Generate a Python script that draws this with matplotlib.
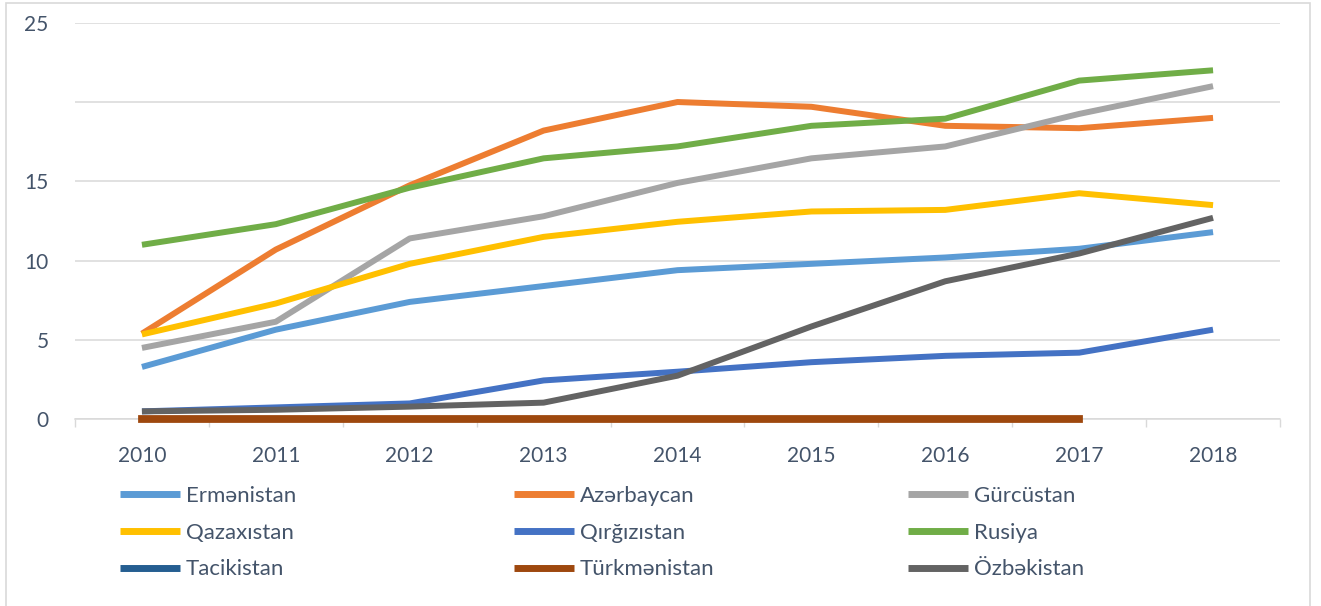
import numpy as np
import matplotlib.pyplot as plt
from matplotlib.patches import Rectangle

# Kateqoriyalar (illər)
years = ["2010", "2011", "2012", "2013", "2014", "2015", "2016", "2017", "2018"]

# Seriyalar - şəkildən oxunmuş təxmini dəyərlər
ermenistan = [3.3, 5.65, 7.4, 8.4, 9.4, 9.8, 10.2, 10.75, 11.8]
azerbaycan = [5.4, 10.7, 14.75, 18.2, 20.0, 19.7, 18.5, 18.35, 19.0]
gurcustan = [4.5, 6.15, 11.4, 12.8, 14.9, 16.45, 17.2, 19.25, 21.0]
qazaxistan = [5.35, 7.3, 9.8, 11.5, 12.45, 13.1, 13.2, 14.25, 13.5]
qirgizistan = [0.5, 0.75, 1.0, 2.45, 3.0, 3.6, 4.0, 4.2, 5.65]
rusiya = [11.0, 12.3, 14.6, 16.45, 17.2, 18.5, 18.95, 21.35, 22.0]
tacikistan = [np.nan] * 9
turkmenistan = [0.05, 0.05, 0.05, 0.05, 0.05, 0.05, 0.05, 0.05, np.nan]
ozbekistan = [0.5, 0.6, 0.8, 1.05, 2.75, 5.85, 8.7, 10.45, 12.7]

y_ticks = [0, 5, 10, 15, 20, 25]
y_labels = ["0", "5", "10", "15", "", "25"]

series = [
    ("Ermənistan", ermenistan, "#5B9BD5"),
    ("Azərbaycan", azerbaycan, "#ED7D31"),
    ("Gürcüstan", gurcustan, "#A5A5A5"),
    ("Qazaxıstan", qazaxistan, "#FFC000"),
    ("Qırğızıstan", qirgizistan, "#4472C4"),
    ("Rusiya", rusiya, "#70AD47"),
    ("Tacikistan", tacikistan, "#255E91"),
    ("Türkmənistan", turkmenistan, "#9E480E"),
    ("Özbəkistan", ozbekistan, "#636363"),
]

TXT = "#44546A"
GRID = "#D9D9D9"
plt.rcParams["font.family"] = ["Lato", "DejaVu Sans"]

W, H = 1321, 606
fig = plt.figure(figsize=(W / 100, H / 100), dpi=100)
ax = fig.add_axes([75 / W, 1 - 419.3 / H, (1280 - 75) / W, (419.3 - 22.7) / H])

x = np.arange(len(years))
handles = []
for i, (name, vals, col) in enumerate(series):
    if name == "Türkmənistan":
        ln, = ax.plot(x, vals, color=col, lw=5.6, solid_capstyle="projecting",
                      clip_on=False, zorder=3, label=name)
    else:
        ln, = ax.plot(x, vals, color=col, lw=4.3, solid_capstyle="butt",
                      clip_on=False, zorder=3 + i * 0.01, label=name)
    handles.append(ln)

ax.set_xlim(-0.5, len(years) - 0.5)
ax.set_ylim(0, 25)
ax.set_yticks(y_ticks)
ax.set_yticklabels(y_labels)
ax.set_xticks(x)
ax.set_xticklabels(years)
ax.set_xticks(np.arange(-0.5, len(years), 1.0), minor=True)
ax.tick_params(axis="x", which="major", length=0, pad=19, labelsize=15, labelcolor=TXT)
ax.tick_params(axis="x", which="minor", length=6, width=1, color=GRID)
ax.tick_params(axis="y", length=0, pad=19, labelsize=15, labelcolor=TXT)
ax.yaxis.grid(True, color=GRID, lw=1.1)
ax.set_axisbelow(True)
for s in ["left", "right", "top"]:
    ax.spines[s].set_visible(False)
ax.spines["bottom"].set_color(GRID)
ax.spines["bottom"].set_linewidth(1.1)

# Legend: üç sütun, hər biri ayrıca
col_x = [120, 514, 908]
for c in range(3):
    hs = [handles[c + 3 * r] for r in range(3)]
    leg = fig.legend(handles=hs, labels=[h.get_label() for h in hs],
                     loc="upper left", bbox_to_anchor=(col_x[c] / W, 1 - 486 / H),
                     frameon=False, fontsize=16, handlelength=2.7,
                     handletextpad=0.25, labelspacing=0.75, borderpad=0,
                     borderaxespad=0)
    for t in leg.get_texts():
        t.set_color(TXT)
    for lh in leg.get_lines():
        lh.set_linewidth(5)
        lh.set_solid_capstyle("butt")

# çərçivə
fig.patches.append(Rectangle((6 / W, -0.01), (1310 - 6) / W, 1 - 3 / H + 0.01,
                             transform=fig.transFigure, fill=False,
                             edgecolor=GRID, lw=1.2))

fig.savefig("out.png", dpi=100)
